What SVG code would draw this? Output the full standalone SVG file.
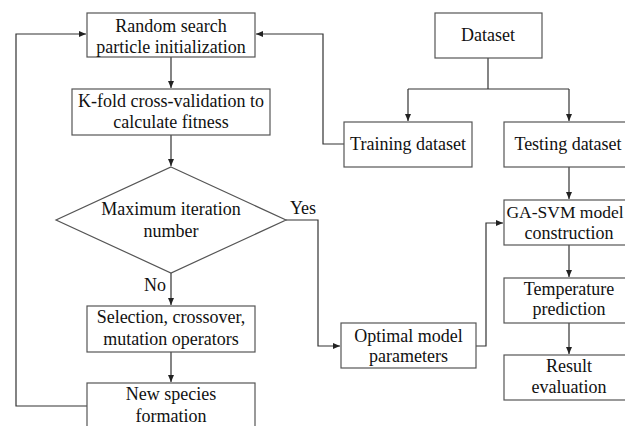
<svg xmlns="http://www.w3.org/2000/svg" width="625" height="426" viewBox="0 0 625 426">
<defs>
<style>
.box{fill:#fff;stroke:#555;stroke-width:1.2}
.ln{fill:none;stroke:#333;stroke-width:1.2}
.t{font-family:'Liberation Serif','Times New Roman',serif;font-size:18px;fill:#111;text-anchor:middle}
</style>
<marker id="ah" markerUnits="userSpaceOnUse" markerWidth="8" markerHeight="8" refX="7" refY="3" orient="auto">
<path d="M0,0 L7,3 L0,6 z" fill="#222"/>
</marker>
</defs>
<rect width="625" height="426" fill="#fff"/>
<g id="connectors">
<polyline class="ln" points="87,406 16,406 16,34 86,34" marker-end="url(#ah)"/>
<polyline class="ln" points="344,144 323,144 323,34 256,34" marker-end="url(#ah)"/>
<line class="ln" x1="171" y1="57" x2="171" y2="88" marker-end="url(#ah)"/>
<line class="ln" x1="171" y1="135" x2="171" y2="166" marker-end="url(#ah)"/>
<line class="ln" x1="171" y1="273" x2="171" y2="305" marker-end="url(#ah)"/>
<line class="ln" x1="171" y1="352" x2="171" y2="382" marker-end="url(#ah)"/>
<polyline class="ln" points="286,220 318,220 318,346 340,346" marker-end="url(#ah)"/>
<polyline class="ln" points="476,346 486,346 486,223 503,223" marker-end="url(#ah)"/>
<line class="ln" x1="488" y1="58" x2="488" y2="89"/>
<line class="ln" x1="408" y1="89" x2="569" y2="89"/>
<line class="ln" x1="408" y1="89" x2="408" y2="121" marker-end="url(#ah)"/>
<line class="ln" x1="569" y1="89" x2="569" y2="121" marker-end="url(#ah)"/>
<line class="ln" x1="569" y1="167" x2="569" y2="199" marker-end="url(#ah)"/>
<line class="ln" x1="569" y1="245" x2="569" y2="277" marker-end="url(#ah)"/>
<line class="ln" x1="569" y1="323" x2="569" y2="354" marker-end="url(#ah)"/>
<text class="t" x="303" y="214">Yes</text>
<text class="t" x="155" y="291">No</text>
</g>
<g id="random-search">
<rect class="box" x="87" y="13" width="168" height="44"/>
<text class="t" x="171" y="32">Random search</text>
<text class="t" x="171" y="53">particle initialization</text>
</g>
<g id="kfold">
<rect class="box" x="72" y="89" width="198" height="46"/>
<text class="t" x="171" y="107">K-fold cross-validation to</text>
<text class="t" x="171" y="128">calculate fitness</text>
</g>
<g id="max-iter">
<polygon class="box" points="171,167 286,220 171,273 56,220"/>
<text class="t" x="171" y="215">Maximum iteration</text>
<text class="t" x="171" y="237">number</text>
</g>
<g id="selection">
<rect class="box" x="87" y="306" width="168" height="46"/>
<text class="t" x="171" y="323">Selection, crossover,</text>
<text class="t" x="171" y="345">mutation operators</text>
</g>
<g id="new-species">
<rect class="box" x="87" y="383" width="168" height="50"/>
<text class="t" x="171" y="400">New species</text>
<text class="t" x="171" y="422">formation</text>
</g>
<g id="dataset">
<rect class="box" x="435" y="13" width="107" height="45"/>
<text class="t" x="488" y="41">Dataset</text>
</g>
<g id="training">
<rect class="box" x="344" y="122" width="128" height="45"/>
<text class="t" x="408" y="150">Training dataset</text>
</g>
<g id="testing">
<rect class="box" x="504" y="122" width="130" height="45"/>
<text class="t" x="568" y="150">Testing dataset</text>
</g>
<g id="gasvm">
<rect class="box" x="504" y="200" width="130" height="45"/>
<text class="t" x="565" y="218" style="font-size:17.5px">GA-SVM model</text>
<text class="t" x="569" y="239">construction</text>
</g>
<g id="temperature">
<rect class="box" x="504" y="278" width="130" height="45"/>
<text class="t" x="569" y="295">Temperature</text>
<text class="t" x="569" y="315">prediction</text>
</g>
<g id="result">
<rect class="box" x="504" y="355" width="130" height="45"/>
<text class="t" x="569" y="372">Result</text>
<text class="t" x="569" y="393">evaluation</text>
</g>
<g id="optimal">
<rect class="box" x="341" y="323" width="135" height="45"/>
<text class="t" x="408.5" y="342">Optimal model</text>
<text class="t" x="408.5" y="362">parameters</text>
</g>
</svg>
